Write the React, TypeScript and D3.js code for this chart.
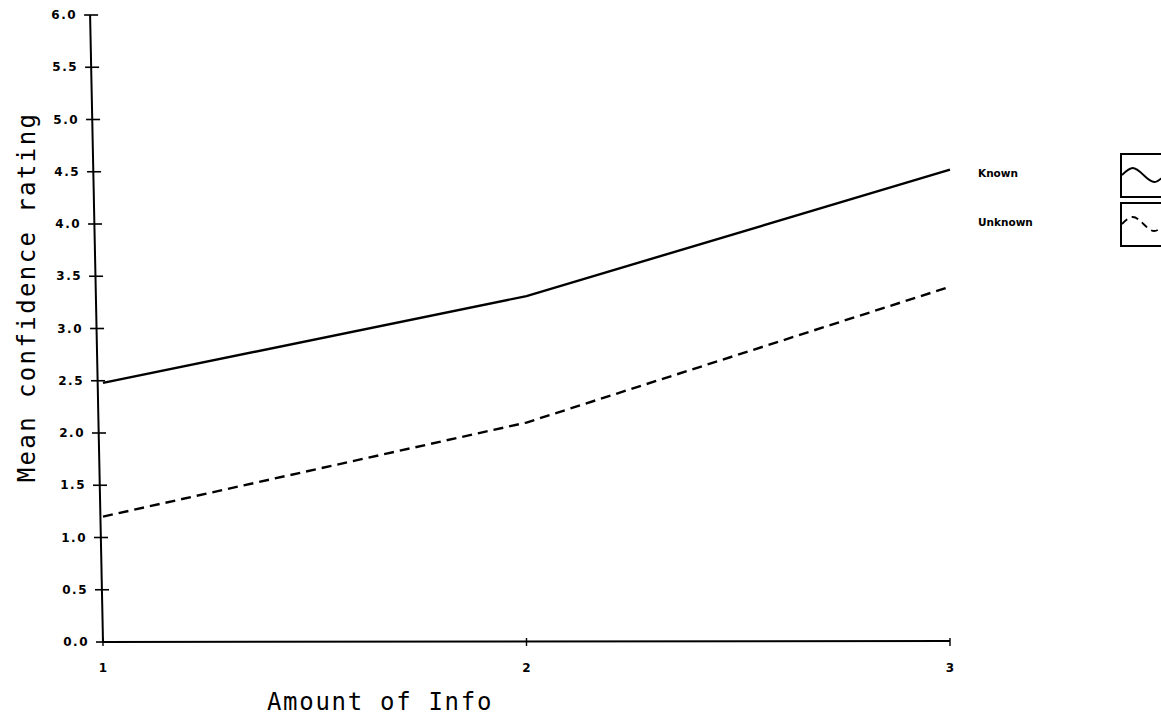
import React from "react";
import * as d3 from "d3";

const infoLevels = [1, 2, 3];
const knownValues = [2.48, 3.31, 4.52];
const unknownValues = [1.2, 2.1, 3.4];
const yTicks = [0, 0.5, 1, 1.5, 2, 2.5, 3, 3.5, 4, 4.5, 5, 5.5, 6];
const xTicks = [1, 2, 3];
const seriesNames = ["Known", "Unknown"];
const wavePoints: [number, number][] = [[0, 0], [0.25, -1], [0.5, 0], [0.75, 1], [1, 0]];

export default function App() {
  const W = 1161, H = 715;
  const x = d3.scaleLinear().domain([1, 3]).range([103, 950]);
  const y = d3.scaleLinear().domain([0, 6]).range([642, 15]);
  // axis drawn slightly slanted like the scanned original
  const slant = (yy: number) => (yy - 642) * 0.019;

  const line = d3.line<number>()
    .x((_, i) => x(infoLevels[i]))
    .y((d) => y(d));

  const waveX = d3.scaleLinear().domain([0, 1]).range([1122, 1165]);
  const waveY = d3.scaleLinear().domain([-1, 1]).range([-7, 7]);
  const wave = d3.line<[number, number]>()
    .x((d) => waveX(d[0]))
    .y((d) => waveY(d[1]))
    .curve(d3.curveNatural);

  const labelFont = "'DejaVu Sans', sans-serif";
  const monoFont = "'DejaVu Sans Mono', monospace";

  return (
    <svg width={W} height={H} style={{ position: "absolute", left: 0, top: 0, background: "#fff" }}>
      <rect width={W} height={H} fill="#fff" />
      {/* Y axis */}
      <line x1={x(1) + slant(y(0))} y1={y(0)} x2={x(1) + slant(y(6)) - 1} y2={y(6)} stroke="#000" strokeWidth={2} />
      {yTicks.map((t) => {
        const cx = x(1) + slant(y(t)) - 1;
        return (
          <g key={t}>
            <line x1={cx - 6} x2={cx + 8} y1={y(t)} y2={y(t)} stroke="#000" strokeWidth={1.6} />
            <text x={cx - 13} y={y(t)} dy="0.35em" textAnchor="end" fontFamily={labelFont} fontWeight="bold" fontSize={12} letterSpacing={1.5}>
              {t.toFixed(1)}
            </text>
          </g>
        );
      })}
      {/* X axis */}
      <line x1={x(1) - 1} y1={y(0)} x2={x(3)} y2={y(0) - 1} stroke="#000" strokeWidth={2} />
      {xTicks.map((t) => (
        <g key={t}>
          <line x1={x(t)} x2={x(t)} y1={y(0) - 4} y2={y(0) + 4} stroke="#000" strokeWidth={1.4} />
          <text x={x(t)} y={672} textAnchor="middle" fontFamily={labelFont} fontWeight="bold" fontSize={12}>
            {t}
          </text>
        </g>
      ))}
      {/* Lines */}
      <path d={line(knownValues) || ""} fill="none" stroke="#000" strokeWidth={2.4} />
      <path d={line(unknownValues) || ""} fill="none" stroke="#000" strokeWidth={2.4} strokeDasharray="10,6" />
      {/* Axis titles */}
      <text x={380} y={710} textAnchor="middle" fontFamily={monoFont} fontSize={24} letterSpacing={1.7}>
        Amount of Info
      </text>
      <text transform="translate(35,297) rotate(-90)" textAnchor="middle" fontFamily={monoFont} fontSize={24} letterSpacing={2.4}>
        Mean confidence rating
      </text>
      {/* Legend */}
      {seriesNames.map((name, i) => {
        const top = 154 + i * 49;
        const cy = top + 21;
        return (
          <g key={name}>
            <text x={978} y={173 + i * 49} dy="0.35em" fontFamily={labelFont} fontWeight="bold" fontSize={10.5}>
              {name}
            </text>
            <rect x={1121} y={top} width={60} height={43} fill="none" stroke="#000" strokeWidth={2} />
            <g transform={`translate(0,${cy})`}>
              <path d={wave(wavePoints) || ""} fill="none" stroke="#000" strokeWidth={1.8} strokeDasharray={i === 1 ? "7,5" : undefined} />
            </g>
          </g>
        );
      })}
    </svg>
  );
}
